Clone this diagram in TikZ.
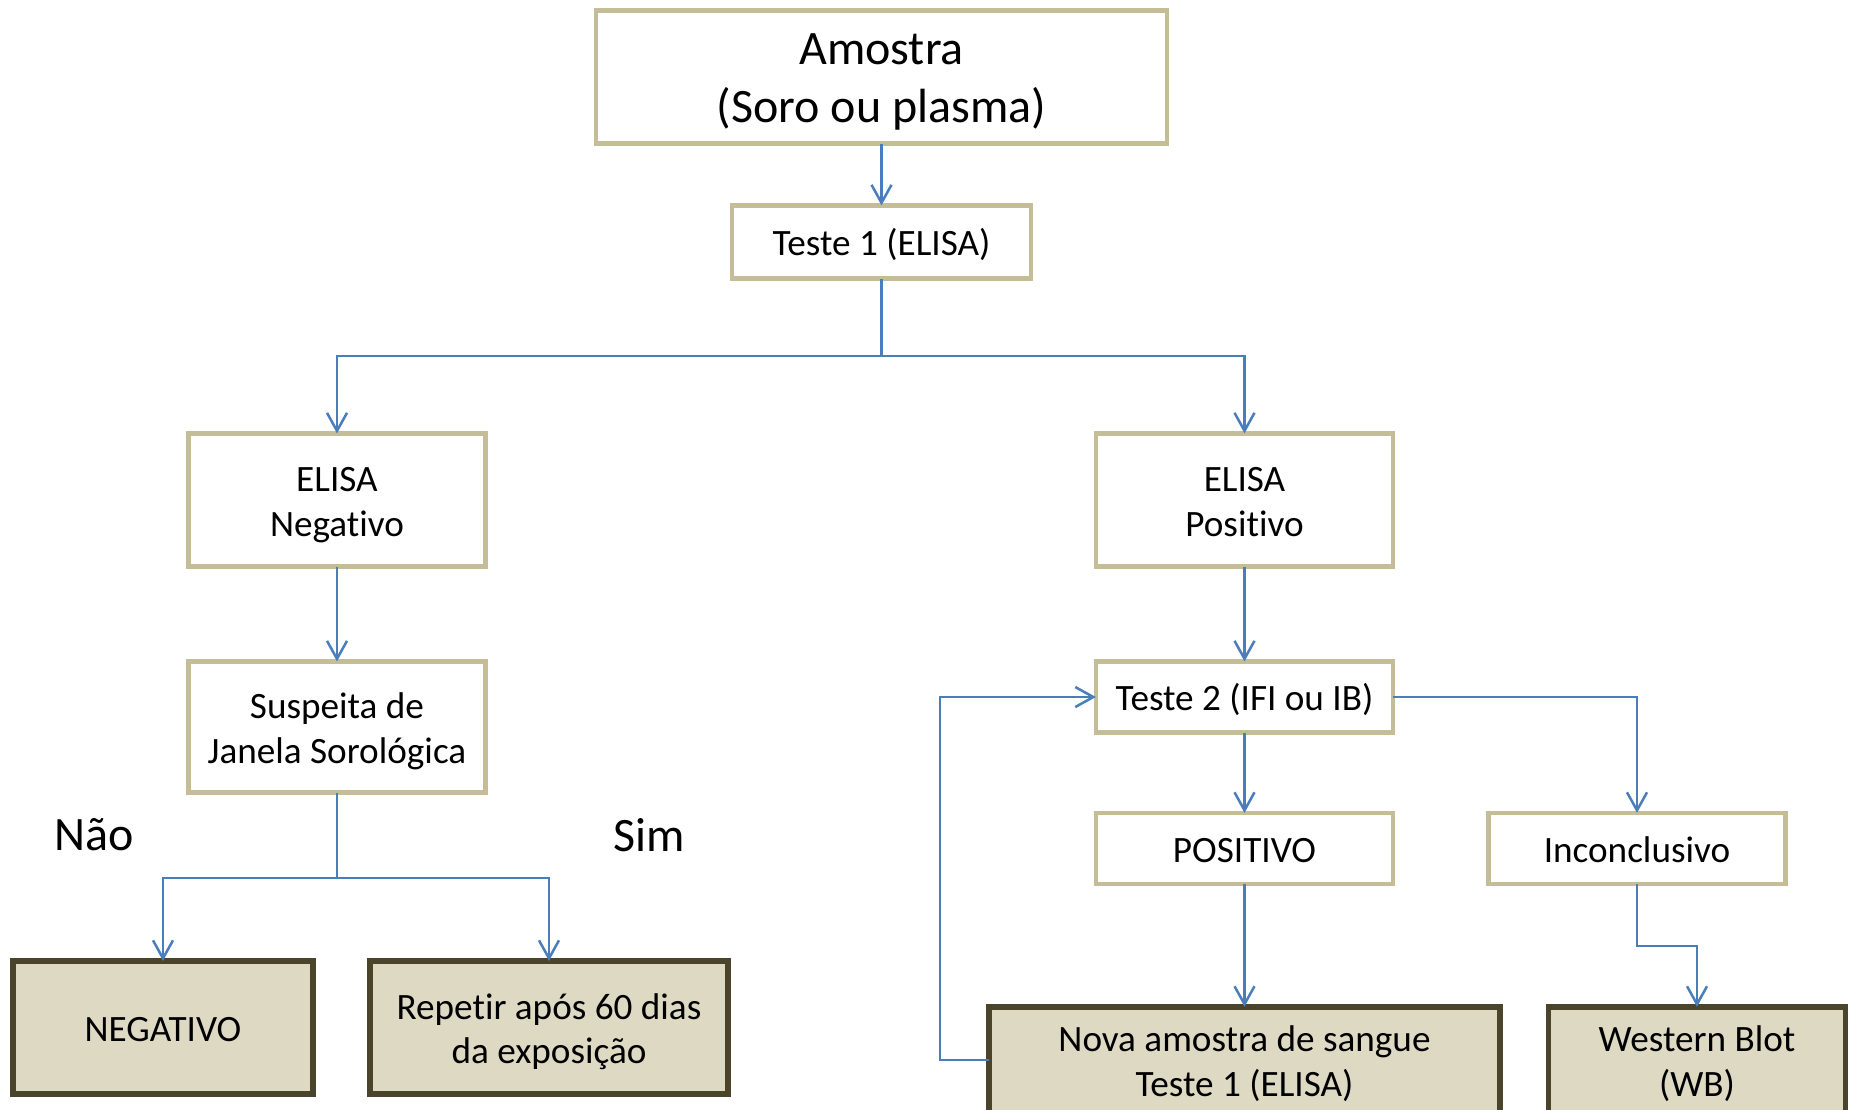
\documentclass[tikz,border=0pt]{standalone}
\usepackage{fontspec}
\setmainfont{Carlito}[Ligatures=NoCommon]
\usetikzlibrary{arrows.meta}
\definecolor{tanline}{HTML}{C4BD97}
\definecolor{darkline}{HTML}{4A452A}
\definecolor{darkfill}{HTML}{DDD9C3}
\definecolor{conn}{HTML}{4A7EBB}
% line struts so that text is centred by its line boxes, as in the original
\newcommand\ls{\rule[-4.2pt]{0pt}{22.3pt}}
\newcommand\lb{\rule[-6.3pt]{0pt}{29pt}}
\tikzset{
  whitebox/.style={draw=tanline, line width=2.35pt, fill=white, inner sep=0pt, outer sep=0pt, align=center,
    font=\fontsize{18.6}{22.3}\selectfont},
  darkbox/.style={draw=darkline, line width=2.85pt, fill=darkfill, inner sep=0pt, outer sep=0pt, align=center,
    font=\fontsize{18.6}{22.3}\selectfont},
  arr/.style={draw=conn, line width=1.25pt, -{Straight Barb[length=9pt,width=10pt]}},
  plainline/.style={draw=conn, line width=1.25pt},
  bigtext/.style={inner sep=0pt, font=\fontsize{24}{29}\selectfont}
}
\begin{document}
\begin{tikzpicture}[x=0.5pt,y=-0.5pt]
\useasboundingbox (0,0) rectangle (1858,1109);
\clip (0,0) rectangle (1858,1109);
\fill[white] (0,0) rectangle (1858,1109);
% nodes
\node[whitebox, minimum width=285.6pt, minimum height=66.6pt, font=\fontsize{24}{29}\selectfont] (amostra) at (881.5,77) {Amostra\lb\\(Soro ou plasma)\lb};
\node[whitebox, minimum width=149.6pt, minimum height=36.6pt] (t1) at (881.5,242) {Teste 1 (ELISA)\ls};
\node[whitebox, minimum width=148.6pt, minimum height=66.6pt] (neg) at (337,500) {ELISA\ls\\Negativo\ls};
\node[whitebox, minimum width=148.6pt, minimum height=66.6pt] (pos) at (1244.5,500) {ELISA\ls\\Positivo\ls};
\node[whitebox, minimum width=148.6pt, minimum height=65.6pt] (susp) at (337,727) {Suspeita de\ls\\Janela Sorológica\ls};
\node[whitebox, minimum width=148.6pt, minimum height=35.6pt] (t2) at (1244.5,697) {Teste 2 (IFI ou IB)\ls};
\node[whitebox, minimum width=148.6pt, minimum height=35.6pt] (positivo) at (1244.5,848.5) {POSITIVO\ls};
\node[whitebox, minimum width=148.6pt, minimum height=35.6pt] (inc) at (1637,848.5) {Inconclusivo\ls};
\node[darkbox, minimum width=150.2pt, minimum height=66.6pt] (negativo) at (163,1027.5) {NEGATIVO\ls};
\node[darkbox, minimum width=179.2pt, minimum height=66.6pt] (repetir) at (549,1027.5) {Repetir após 60 dias\ls\\da exposição\ls};
\node[darkbox, minimum width=255.2pt, minimum height=53.2pt] (nova) at (1244.5,1060) {Nova amostra de sangue\ls\\Teste 1 (ELISA)\ls};
\node[darkbox, minimum width=148.6pt, minimum height=53.2pt] (wb) at (1697,1060) {Western Blot\ls\\(WB)\ls};
\node[bigtext] (nao) at (94,835) {Não};
\node[bigtext] (sim) at (649,835) {Sim};
% junction points
\coordinate (b1) at (881.5,356);
\coordinate (b2) at (337,878);
\coordinate (k) at (1637,946);
\coordinate (l) at (940,1060);
% connectors
\draw[arr] (amostra.south) -- (t1.north);
\draw[plainline] (t1.south) -- (b1);
\draw[arr] (b1) -| (neg.north);
\draw[arr] (b1) -| (pos.north);
\draw[arr] (neg.south) -- (susp.north);
\draw[arr] (pos.south) -- (t2.north);
\draw[plainline] (susp.south) -- (b2);
\draw[arr] (b2) -| (negativo.north);
\draw[arr] (b2) -| (repetir.north);
\draw[arr] (t2.south) -- (positivo.north);
\draw[arr] (t2.east) -| (inc.north);
\draw[arr] (positivo.south) -- (nova.north);
\draw[arr] (inc.south) -- (k) -| (wb.north);
\draw[arr] (nova.west) -- (l) |- (t2.west);
\end{tikzpicture}
\end{document}
